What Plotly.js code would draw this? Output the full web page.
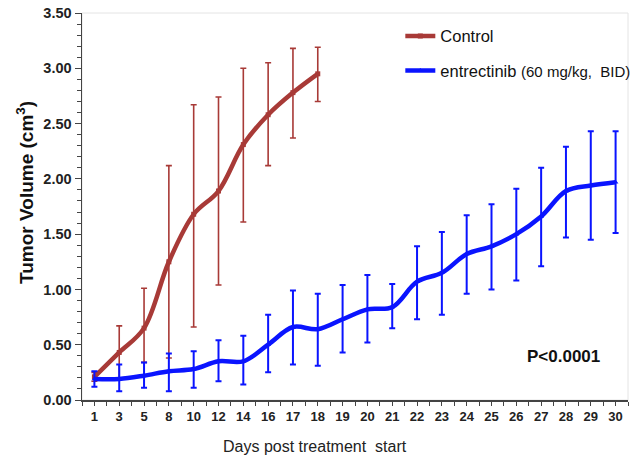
<!DOCTYPE html>
<html>
<head>
<meta charset="utf-8">
<script src="https://cdn.plot.ly/plotly-3.0.1.min.js"></script>
<style>html,body{margin:0;padding:0;background:#fff;}#chart{width:639px;height:457px;}</style>
</head>
<body>
<div id="chart"></div>
<script>
const days = ['1','3','5','8','10','12','14','16','17','18','19','20','21','22','23','24','25','26','27','28','29','30'];

const controlMean = [0.21,0.43,0.65,1.25,1.68,1.89,2.31,2.58,2.78,2.95];
const controlUpper = [0.25,0.67,1.01,2.12,2.67,2.74,3.00,3.05,3.18,3.19];
const controlLower = [0.17,0.20,0.34,0.38,0.66,1.04,1.61,2.12,2.37,2.70];

const entrMean = [0.19,0.19,0.22,0.26,0.28,0.35,0.35,0.50,0.66,0.64,0.73,0.82,0.84,1.07,1.15,1.32,1.39,1.50,1.66,1.89,1.94,1.97];
const entrUpper = [0.26,0.32,0.34,0.42,0.44,0.54,0.58,0.77,0.99,0.96,1.04,1.13,1.05,1.39,1.52,1.67,1.77,1.91,2.10,2.29,2.43,2.43];
const entrLower = [0.12,0.08,0.11,0.08,0.11,0.17,0.14,0.25,0.32,0.31,0.43,0.52,0.65,0.73,0.77,0.96,1.00,1.08,1.21,1.47,1.45,1.51];

const FONT = 'Arial, "Liberation Sans", sans-serif';
const RED = '#a83a37';
const BLUE = '#0a14ff';

const idx = days.map((d, i) => i);

const traces = [
  {
    x: idx.slice(0, controlMean.length),
    y: controlMean,
    name: 'Control',
    legendgroup: 'a',
    mode: 'lines+markers',
    line: {color: RED, width: 4.5, shape: 'spline'},
    marker: {color: RED, size: 5, symbol: 'square'},
    error_y: {
      type: 'data', symmetric: false,
      array: controlUpper.map((u, i) => u - controlMean[i]),
      arrayminus: controlLower.map((l, i) => controlMean[i] - l),
      color: RED, thickness: 1.6, width: 3
    }
  },
  {
    x: idx,
    y: entrMean,
    name: 'entrectinib <span style="font-size:15px">(60 mg/kg,  BID)</span>',
    legendgroup: 'b',
    mode: 'lines+markers',
    line: {color: BLUE, width: 4.5, shape: 'spline'},
    marker: {color: BLUE, size: 5, symbol: 'triangle-up'},
    error_y: {
      type: 'data', symmetric: false,
      array: entrUpper.map((u, i) => u - entrMean[i]),
      arrayminus: entrLower.map((l, i) => entrMean[i] - l),
      color: BLUE, thickness: 2, width: 3
    }
  }
];

const layout = {
  width: 639, height: 457,
  margin: {l: 82, r: 11, t: 13, b: 57, autoexpand: false},
  paper_bgcolor: '#fff', plot_bgcolor: '#fff',
  font: {family: FONT, color: '#222'},
  showlegend: true,
  legend: {
    x: 0.583, y: 0.985, xanchor: 'left', yanchor: 'top',
    bgcolor: 'rgba(0,0,0,0)',
    font: {family: FONT, size: 16.5, color: '#111'},
    tracegroupgap: 10,
    traceorder: 'grouped'
  },
  xaxis: {
    range: [-0.5, 21.5],
    automargin: false,
    tickmode: 'array',
    tickvals: idx,
    ticktext: days,
    tickfont: {family: FONT, size: 13, color: '#222', weight: 'bold'},
    ticks: 'outside', ticklen: 4, tickwidth: 1, tickcolor: '#444',
    minor: {tickmode: 'linear', tick0: -0.5, dtick: 1, ticks: 'outside', ticklen: 4, tickcolor: '#444', showgrid: false},
    showline: true, linecolor: '#444', linewidth: 1.5,
    showgrid: false, zeroline: false
  },
  yaxis: {
    range: [0, 3.5],
    automargin: false,
    tickmode: 'linear', tick0: 0, dtick: 0.5,
    tickformat: '.2f',
    tickfont: {family: FONT, size: 14.5, color: '#222', weight: 'bold'},
    ticks: 'outside', ticklen: 6, tickwidth: 1, tickcolor: '#444',
    minor: {dtick: 0.1, ticks: 'outside', ticklen: 4, tickcolor: '#444', showgrid: false},
    showline: true, linecolor: '#444', linewidth: 1.5,
    showgrid: false, zeroline: false
  },
  shapes: [
    {type: 'rect', xref: 'paper', yref: 'paper', x0: 0, x1: 1, y0: 0, y1: 1,
     line: {color: '#e4e4e4', width: 1}, layer: 'below'}
  ],
  annotations: [
    {xref: 'paper', yref: 'paper', x: 0.8816, y: 0.112, xanchor: 'center', yanchor: 'middle',
     text: '<b>P&lt;0.0001</b>', showarrow: false, font: {family: FONT, size: 17, color: '#111'}},
    {xref: 'paper', yref: 'paper', x: (315 - 82) / 545.6, y: -(446 - 400) / 387, xanchor: 'center', yanchor: 'middle',
     text: 'Days post treatment  start', showarrow: false, font: {family: FONT, size: 16, color: '#222'}},
    {xref: 'paper', yref: 'paper', x: (25 - 82) / 545.6, y: (400 - 192) / 387, xanchor: 'center', yanchor: 'middle',
     textangle: -90, text: '<b>Tumor Volume (cm<sup>3</sup>)</b>', showarrow: false, font: {family: FONT, size: 19, color: '#111'}}
  ]
};

Plotly.newPlot('chart', traces, layout, {displayModeBar: false, staticPlot: true});
</script>
</body>
</html>
